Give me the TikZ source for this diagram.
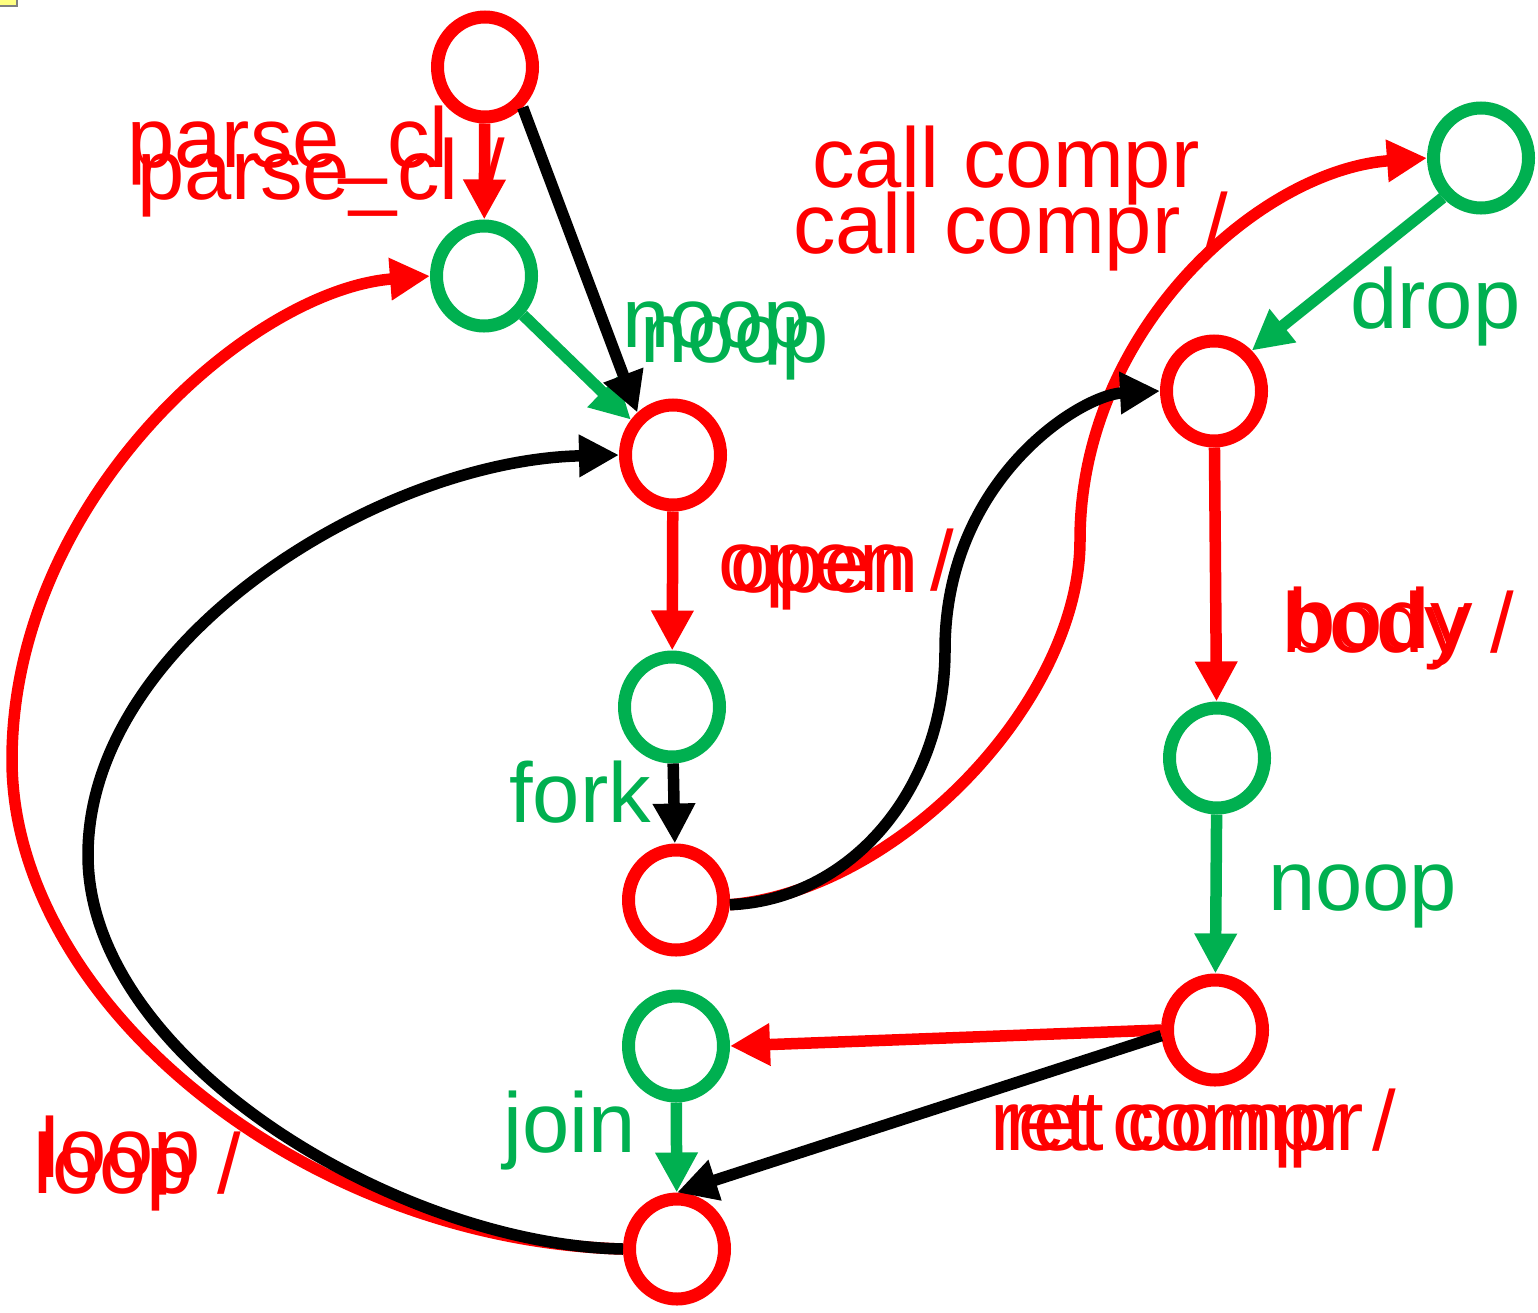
\documentclass[tikz,border=0pt]{standalone}
\usepackage{fontspec}
\setmainfont{Liberation Sans}
\usetikzlibrary{arrows.meta,shapes.geometric}
\definecolor{myred}{RGB}{255,0,0}
\definecolor{mygreen}{RGB}{0,176,80}
\definecolor{noteyellow}{RGB}{255,255,128}
\begin{document}
\begin{tikzpicture}[x=1pt,y=-1pt,
  st/.style={ellipse, draw, line width=13pt, minimum width=95pt, minimum height=100pt, inner sep=0pt, fill=white},
  rs/.style={st, draw=myred},
  gs/.style={st, draw=mygreen},
  edge/.style={line width=11.5pt, -{Triangle[length=40pt,width=40pt]}},
  lbl/.style={anchor=base west, inner sep=0pt, font=\fontsize{85}{100}\selectfont},
]
\useasboundingbox (0,0) rectangle (1538,1312);
\filldraw[fill=noteyellow, draw=gray, line width=2pt] (-5,-5) rectangle (17,6);

% nodes
\node[rs] (A) at (485,67) {};
\node[gs] (B) at (484,276) {};
\node[rs] (C) at (673,455) {};
\node[gs] (D) at (672,707) {};
\node[rs] (E) at (676,900) {};
\node[gs] (F) at (676,1046) {};
\node[rs] (G) at (677,1249) {};
\node[gs] (H) at (1481,158) {};
\node[rs] (I) at (1214,391) {};
\node[gs] (J) at (1217,758) {};
\node[rs] (K) at (1215,1030) {};

% red curves first
\draw[edge, myred] (E.-5) .. controls (900,890) and (1080,700) .. (1080,540)
   .. controls (1080,330) and (1260,170) .. (H.west);
\draw[edge, myred] (G.west) .. controls (300,1240) and (12,1000) .. (12,760)
   .. controls (12,500) and (250,290) .. (B.west);
% black curves
\draw[edge, black] (E.-5) .. controls (850,900) and (945,790) .. (945,650)
   .. controls (945,480) and (1080,395) .. (I.west);
\draw[edge, black] (G.west) .. controls (400,1245) and (88,1060) .. (88,855)
   .. controls (88,640) and (380,460) .. (C.west);

% straight edges
\draw[edge, myred] (A) -- (B);
\draw[edge, mygreen] (B.-45) -- (C.140);
\draw[edge, black] (A.-47) -- (C.130);
\draw[edge, myred] (C) -- (D);
\draw[edge, black] (D) -- (E);
\draw[edge, mygreen] (H.-134) -- (I.47);
\draw[edge, myred] (I) -- (J);
\draw[edge, mygreen] (J) -- (K);
\draw[edge, myred] (K.west) -- (F.east);
\draw[edge, black] (K.186) -- (G.north);
\draw[edge, mygreen] (F) -- (G);

% labels
\node[lbl, myred] (lp1) at (127,167) {parse\_cl};
\node[lbl, myred] (lp2) at (137,199) {parse\_cl /};
\node[lbl, myred] (lc1) at (812,187) {call compr};
\node[lbl, myred] (lc2) at (793,253) {call compr /};
\node[lbl, mygreen] (ln1) at (622,347) {noop};
\node[lbl, mygreen] (ln2) at (640,362) {noop};
\node[lbl, myred] (lo1) at (718,590) {open /};
\node[lbl, myred] (lo2) at (730,592) {open};
\node[lbl, myred] (lb1) at (1282,652) {body /};
\node[lbl, myred] (lb2) at (1288,648) {body};
\node[lbl, myred] (lr1) at (990,1150) {ret compr /};
\node[lbl, myred] (lr2) at (1005,1150) {ret compr};
\node[lbl, myred] (ll1) at (40,1177) {loop};
\node[lbl, myred] (ll2) at (33,1193) {loop /};
\node[lbl, mygreen] (lf) at (509,822) {fork};
\node[lbl, mygreen] (lj) at (503,1152) {join};
\node[lbl, mygreen] (ld) at (1350,328) {drop};
\node[lbl, mygreen] (ln3) at (1268,910) {noop};
\end{tikzpicture}
\end{document}
